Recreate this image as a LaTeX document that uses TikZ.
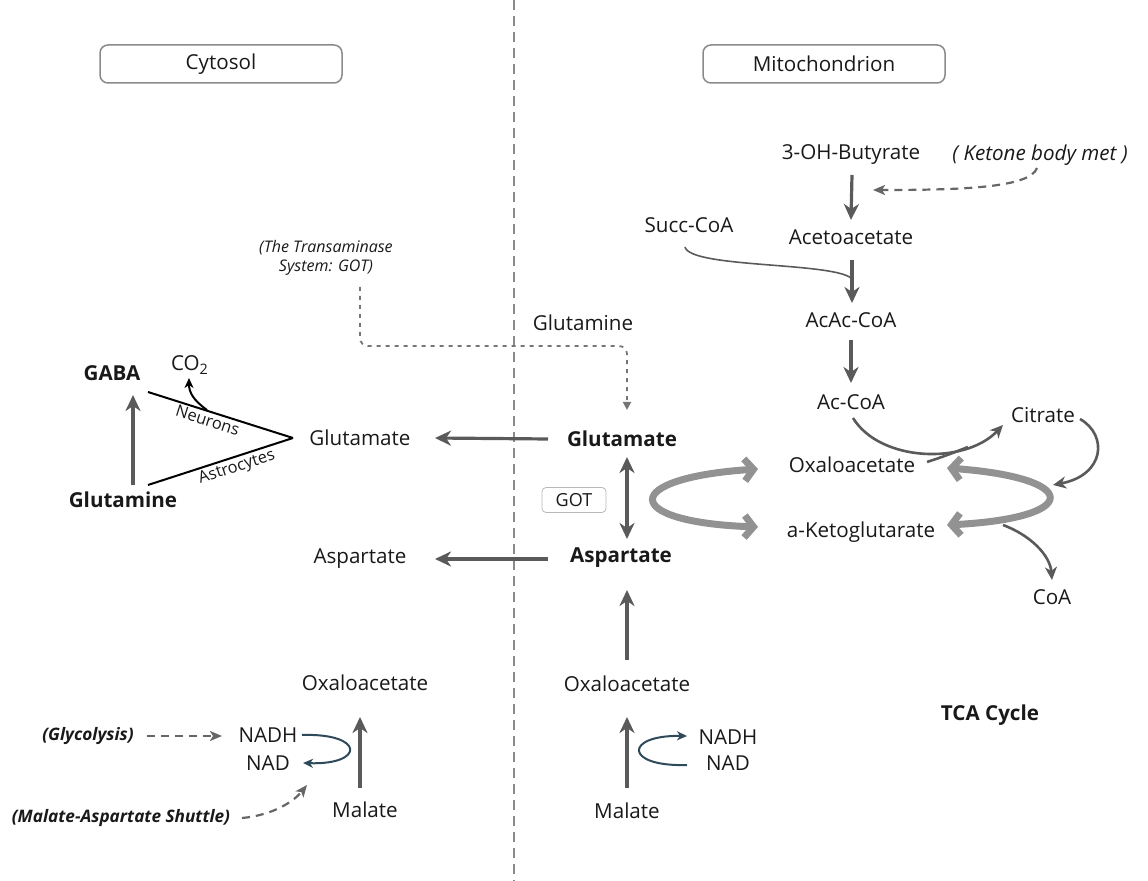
\documentclass[tikz,border=0pt]{standalone}
\usepackage{fontspec}
\setmainfont{Open Sans}
\usepackage{tikz}
\usetikzlibrary{arrows.meta,calc}
\definecolor{arrgray}{HTML}{5A5A5A}
\definecolor{cycgray}{HTML}{929292}
\definecolor{nadteal}{HTML}{2E4A5A}
\definecolor{dashgray}{HTML}{666666}
\definecolor{linegray}{HTML}{8A8A8A}

\begin{document}
\begin{tikzpicture}[
        x = 0.5pt, y = -0.5pt,
        every node/.style = {inner sep = 1pt, text = black!90, font = \fontsize{10.3}{12}\selectfont},
        heading/.style = {draw = linegray, line width = 0.75pt, rounded corners = 4pt,
          minimum width = 121pt, minimum height = 19pt},
        strong/.style = {font = \fontsize{10.3}{12}\selectfont\bfseries},
        note/.style = {font = \fontsize{8.6}{10}\selectfont\bfseries\itshape},
        tiny/.style = {font = \fontsize{8.2}{10}\selectfont},
        flow/.style = {draw = arrgray, line width = 1.6pt,
          -{Stealth[length = 8pt, width = 7.5pt, inset = 2.5pt]}},
        flowboth/.style = {draw = arrgray, line width = 1.6pt,
          {Stealth[length = 8pt, width = 7.5pt, inset = 2.5pt]}-{Stealth[length = 8pt, width = 7.5pt, inset = 2.5pt]}},
        thinflow/.style = {draw = arrgray, line width = 1.3pt,
          -{Stealth[length = 6.5pt, width = 6pt, inset = 2pt]}},
        hint/.style = {draw = dashgray, line width = 1.1pt, dash pattern = on 4pt off 3pt,
          -{Stealth[length = 6pt, width = 5pt, inset = 1.5pt]}},
        redox/.style = {draw = nadteal, line width = 1pt,
          -{Stealth[length = 5pt, width = 4.5pt, inset = 1.5pt]}},
        loopflow/.style = {draw = cycgray, line width = 3.5pt,
          {Straight Barb[length = 4.5pt, width = 11pt]}-{Straight Barb[length = 4.5pt, width = 11pt]}}
        ]
        \useasboundingbox (0,0) rectangle (1148,881);

        \node[heading] (cyto) at (221,64) {Cytosol};
        \node[heading] (mito) at (824,64) {Mitochondrion};
        \coordinate (wallTop) at (514,0);
        \coordinate (wallEnd) at (514,881);
        \draw[linegray, line width = 0.8pt, dash pattern = on 5pt off 3pt] (wallTop) -- (wallEnd);

        \node[strong] (gaba) at (112,373) {GABA};
        \node (co2) at (190,365) {CO\textsubscript{2}};
        \node[strong] (glnC) at (123,500) {Glutamine};
        \node (gluC) at (360,438) {Glutamate};
        \node (aspC) at (360,559) {Aspartate};
        \node (oaaC) at (365,683) {Oxaloacetate};
        \node (malC) at (365,810) {Malate};
        \node (nadhC) at (268,735) {NADH};
        \node (nadC) at (268,763) {NAD};
        \node[note] (glyco) at (88,736) {(Glycolysis)};
        \node[note] (shuttle) at (121,818) {(Malate-Aspartate Shuttle)};
        \node[font = \fontsize{8}{9.5}\selectfont\itshape, align = center] (transam) at (326,258)
          {(The Transaminase\\System: GOT)};

        \node (glnM) at (583,323) {Glutamine};
        \node[strong] (gluM) at (622,439) {Glutamate};
        \node[strong] (aspM) at (621,558) {Aspartate};
        \node[draw = gray!55, rounded corners = 2pt, minimum width = 32pt, minimum height = 12.5pt,
          font = \fontsize{9}{11}\selectfont] (got) at (574,500) {GOT};
        \node (oaaMb) at (627,684) {Oxaloacetate};
        \node (malM) at (627,811) {Malate};
        \node (nadhM) at (728,737) {NADH};
        \node (nadM) at (728,763) {NAD};

        \node (butyr) at (851,155) {3-OH-Butyrate};
        \node[font = \fontsize{10.3}{12}\selectfont\itshape] (ketone) at (1040,155) {( Ketone body met )};
        \node (succ) at (689,225) {Succ-CoA};
        \node (acac) at (851,237) {Acetoacetate};
        \node (acaccoa) at (851,320) {AcAc-CoA};
        \node (accoa) at (851,402) {Ac-CoA};
        \node (citrate) at (1043,415) {Citrate};
        \node (oaaM) at (852,465) {Oxaloacetate};
        \node (akg) at (861,532) {a-Ketoglutarate};
        \node (coa) at (1052,597) {CoA};
        \node[strong] (tca) at (990,715) {TCA Cycle};

        \draw[line width = 1pt] ($(gaba)+(36,19)$) -- ($(gluC)+(-67,0)$)
          node[tiny, pos = 0.43, below, sloped] {Neurons};
        \draw[line width = 1pt] ($(glnC)+(25,-15)$) -- ($(gluC)+(-67,0)$)
          node[tiny, pos = 0.59, below, sloped] {Astrocytes};
        \draw[line width = 1pt, -{Stealth[length = 5pt, width = 4.5pt, inset = 1.5pt]}]
          ($(gaba)+(95,37)$) .. controls (193,400) and (189,392) .. ($(co2)+(-1,13)$);
        \draw[flow] ($(glnC)+(10,-15)$) -- ($(gaba)+(21,22)$);

        \draw[flow] ($(gluM)+(-74,0)$) -- ($(gluC)+(75,0)$);
        \draw[flow] ($(aspM)+(-73,1)$) -- ($(aspC)+(75,0)$);
        \draw[flowboth] ($(gluM)+(5,18)$) -- ($(aspM)+(6,-19)$);
        \draw[flow] ($(oaaMb)+(0,-24)$) -- ($(aspM)+(6,32)$);
        \draw[flow] ($(malM)+(0,-23)$) -- ($(oaaMb)+(0,33)$);
        \draw[flow] ($(malC)+(-5,-22)$) -- ($(oaaC)+(-5,34)$);

        \draw[draw = dashgray!90, line width = 0.9pt, dash pattern = on 2pt off 2.5pt, rounded corners = 4pt,
          -{Triangle[length = 4pt, width = 4pt]}]
          ($(transam)+(34,29)$) |- ($(gluM)+(5,-93)$) -- ($(gluM)+(5,-29)$);

        \draw[redox] ($(nadhC)+(34,0)$) .. controls (365,733) and (365,765) .. ($(nadC)+(35,0)$);
        \draw[redox] ($(nadM)+(-41,2)$) .. controls (624,767) and (624,735) .. ($(nadhM)+(-41,-1)$);
        \draw[hint] ($(glyco)+(59,0)$) -- ($(nadhC)+(-46,1)$);
        \draw[hint] ($(shuttle)+(121,0)$) .. controls (275,815) and (295,800) .. ($(nadC)+(39,22)$);

        \draw[flow] ($(butyr)+(1,20)$) -- ($(acac)+(0,-17)$);
        \draw[hint] ($(ketone)+(-3,13)$) .. controls (1030,188) and (960,190) .. ($(butyr)+(22,35)$);
        \draw[flow] ($(acac)+(1,23)$) -- ($(acaccoa)+(1,-17)$);
        \draw[draw = arrgray, line width = 0.8pt] ($(succ)+(-4,22)$) .. controls (690,268) and (830,262) .. ($(acaccoa)+(0,-42)$);
        \draw[flow] ($(acaccoa)+(0,20)$) -- ($(accoa)+(0,-19)$);

        \draw[thinflow] ($(accoa)+(2,16)$) .. controls (880,462) and (965,465) .. ($(citrate)+(-40,10)$);
        \draw[draw = arrgray, line width = 1.3pt] ($(oaaM)+(75,-3)$) .. controls (945,456) .. ($(citrate)+(-75,32)$);
        \draw[thinflow] ($(citrate)+(37,4)$) .. controls (1108,435) and (1105,475) .. ($(citrate)+(10,70)$);
        \draw[thinflow] ($(akg)+(142,-7)$) .. controls (1030,535) and (1050,555) .. ($(coa)+(0,-17)$);

        \draw[loopflow] ($(oaaM)+(-94,4)$) .. controls (620,478) and (620,522) .. ($(akg)+(-103,-5)$);
        \draw[loopflow] ($(oaaM)+(95,3)$) .. controls (1082,478) and (1082,518) .. ($(akg)+(86,-7)$);
\end{tikzpicture}
\end{document}
